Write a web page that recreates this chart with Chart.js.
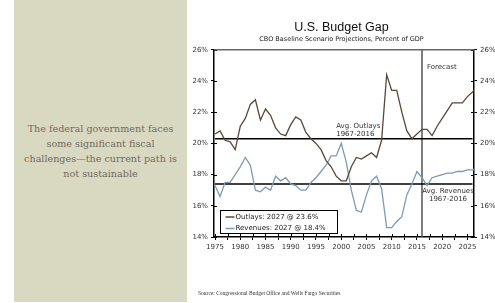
<!DOCTYPE html>
<html>
<head>
<meta charset="utf-8">
<script src="https://cdn.jsdelivr.net/npm/chart.js@4.4.1/dist/chart.umd.min.js"></script>
<style>
  html, body { margin: 0; padding: 0; background: #fff; }
  body { width: 495px; height: 303px; position: relative; overflow: hidden; }
  #side { position: absolute; left: 14px; top: 0; width: 173px; height: 302px; background: #d9d9c1; }
  #side p { position: absolute; left: 0; right: 0; top: 121px; margin: 0; text-align: center;
            font: 9.6px/15px "DejaVu Serif", serif; color: #716a5e; }
  #wrap { position: absolute; left: 188px; top: 0; width: 307px; height: 303px; }
  #src { position: absolute; left: 198px; top: 290px; font: 5.5px "Liberation Serif", serif; color: #333; white-space: nowrap; }
</style>
</head>
<body>
<div id="side"><p>The federal government faces<br>some significant fiscal<br>challenges—the current path is<br>not sustainable</p></div>
<div id="wrap"><canvas id="chart"></canvas></div>
<div id="src">Source: Congressional Budget Office and Wells Fargo Securities</div>
<script>
// fiscal years, 1975-2027 (2017 onward is CBO forecast)
const years = [1975, 1976, 1977, 1978, 1979, 1980, 1981, 1982, 1983, 1984,
  1985, 1986, 1987, 1988, 1989, 1990, 1991, 1992, 1993, 1994,
  1995, 1996, 1997, 1998, 1999, 2000, 2001, 2002, 2003, 2004,
  2005, 2006, 2007, 2008, 2009, 2010, 2011, 2012, 2013, 2014,
  2015, 2016, 2017, 2018, 2019, 2020, 2021, 2022, 2023, 2024,
  2025, 2026, 2027];
const outlays = [20.6, 20.8, 20.2, 20.1, 19.6, 21.1, 21.6, 22.5, 22.8, 21.5,
  22.2, 21.8, 21.0, 20.6, 20.5, 21.2, 21.7, 21.5, 20.7, 20.3,
  20.0, 19.6, 18.9, 18.5, 17.9, 17.6, 17.6, 18.5, 19.1, 19.0,
  19.2, 19.4, 19.1, 20.2, 24.4, 23.4, 23.4, 22.0, 20.8, 20.3,
  20.6, 20.9, 20.9, 20.5, 21.1, 21.6, 22.1, 22.6, 22.6, 22.6,
  23.0, 23.3, 23.6];
const revenues = [17.3, 16.6, 17.5, 17.5, 18.0, 18.5, 19.1, 18.6, 17.0, 16.9,
  17.2, 17.0, 17.9, 17.6, 17.8, 17.4, 17.3, 17.0, 17.0, 17.5,
  17.8, 18.2, 18.6, 19.2, 19.2, 20.0, 18.8, 17.0, 15.7, 15.6,
  16.7, 17.6, 17.9, 17.1, 14.6, 14.6, 15.0, 15.3, 16.7, 17.4,
  18.2, 17.8, 17.3, 17.8, 17.9, 18.0, 18.1, 18.1, 18.2, 18.2,
  18.3, 18.3, 18.4];
const avgOutlays = 20.3;   // 1967-2016 average
const avgRevenues = 17.4;  // 1967-2016 average
const forecastYear = 2016;
const xLabelYears = [1975, 1980, 1985, 1990, 1995, 2000, 2005, 2010, 2015, 2020, 2025];
const yTicks = [14, 16, 18, 20, 22, 24, 26];

const last = years.length - 1;
const tickFont = { family: "DejaVu Sans", size: 7 };

const pts = (vals) => years.map((y, i) => ({ x: y, y: vals[i] }));

// tick marks crossing the axes + top frame, notes and boxed legend
const extras = {
  id: "extras",
  afterDatasetsDraw(chart) {
    const ctx = chart.ctx, ca = chart.chartArea;
    const xs = chart.scales.x, ys = chart.scales.y;
    ctx.save();
    ctx.strokeStyle = "#000";
    ctx.lineWidth = 1;
    ctx.beginPath();
    xs.ticks.forEach(t => {
      const px = Math.round(xs.getPixelForValue(t.value)) + 0.5;
      ctx.moveTo(px, ca.bottom); ctx.lineTo(px, ca.bottom - 3);
    });
    ys.ticks.forEach(t => {
      const py = Math.round(ys.getPixelForValue(t.value)) + 0.5;
      ctx.moveTo(ca.left, py); ctx.lineTo(ca.left + 3, py);
      ctx.moveTo(ca.right, py); ctx.lineTo(ca.right - 3, py);
    });
    ctx.stroke();

    ctx.strokeStyle = "#666";
    ctx.lineWidth = 1.5;
    ctx.beginPath();
    ctx.moveTo(ca.left, ca.top); ctx.lineTo(ca.right, ca.top);
    ctx.stroke();

    ctx.fillStyle = "#333";
    ctx.font = "7px 'DejaVu Sans'";
    ctx.textBaseline = "middle";
    const oy = ys.getPixelForValue(avgOutlays);
    ctx.textAlign = "left";
    ctx.fillText("Avg. Outlays", xs.getPixelForValue(1999), oy - 13);
    ctx.fillText("1967-2016", xs.getPixelForValue(1999), oy - 5);
    const ry = ys.getPixelForValue(avgRevenues);
    ctx.textAlign = "center";
    ctx.fillText("Avg. Revenues", ca.right - 26, ry + 7);
    ctx.fillText("1967-2016", ca.right - 26, ry + 15);
    ctx.textAlign = "left";
    ctx.fillText("Forecast", xs.getPixelForValue(forecastYear) + 5, ca.top + 17);

    // legend box
    const bx = ca.left + 6.5, by = ca.bottom - 26.5, bw = 117, bh = 23;
    ctx.fillStyle = "#fff";
    ctx.fillRect(bx, by, bw, bh);
    ctx.strokeStyle = "#000";
    ctx.lineWidth = 1;
    ctx.strokeRect(bx, by, bw, bh);
    const items = [chart.data.datasets[0], chart.data.datasets[1]];
    items.forEach((ds, i) => {
      const ly = by + 6.5 + i * 11.5;
      ctx.strokeStyle = ds.borderColor;
      ctx.lineWidth = 1.5;
      ctx.beginPath();
      ctx.moveTo(bx + 5, ly); ctx.lineTo(bx + 14, ly);
      ctx.stroke();
      ctx.fillStyle = "#222";
      ctx.textAlign = "left";
      ctx.fillText(ds.label, bx + 15, ly);
    });
    ctx.restore();
  }
};

new Chart(document.getElementById("chart"), {
  type: "line",
  data: {
    datasets: [
      {
        label: `Outlays: ${years[last]} @ ${outlays[last].toFixed(1)}%`,
        data: pts(outlays),
        borderColor: "#5a4838",
        borderWidth: 1.3
      },
      {
        label: `Revenues: ${years[last]} @ ${revenues[last].toFixed(1)}%`,
        data: pts(revenues),
        borderColor: "#7b9bb6",
        borderWidth: 1.3
      },
      {
        label: "avgOutlays",
        data: [{ x: years[0], y: avgOutlays }, { x: years[last - 1], y: avgOutlays }],
        borderColor: "#000",
        borderWidth: 1.5
      },
      {
        label: "avgRevenues",
        data: [{ x: years[0], y: avgRevenues }, { x: years[last - 1], y: avgRevenues }],
        borderColor: "#000",
        borderWidth: 1.5
      },
      {
        label: "forecast",
        data: [{ x: forecastYear, y: yTicks[0] }, { x: forecastYear, y: yTicks[yTicks.length - 1] }],
        borderColor: "#555",
        borderWidth: 1.5
      }
    ]
  },
  options: {
    responsive: true,
    maintainAspectRatio: false,
    animation: false,
    devicePixelRatio: 1,
    elements: { point: { radius: 0 }, line: { tension: 0 } },
    layout: { padding: { top: 0, bottom: 46, left: 0, right: 0 } },
    plugins: {
      legend: { display: false },
      tooltip: { enabled: false },
      title: {
        display: true,
        text: "U.S. Budget Gap",
        color: "#111",
        font: { family: "Liberation Sans", size: 12.5, weight: "normal" },
        padding: { top: 20, bottom: 0 }
      },
      subtitle: {
        display: true,
        text: "CBO Baseline Scenario Projections, Percent of GDP",
        color: "#222",
        font: { family: "DejaVu Sans", size: 6.5 },
        padding: { top: 0, bottom: 7 }
      }
    },
    scales: {
      x: {
        type: "linear",
        min: 1974.8,
        max: 2026.3,
        afterBuildTicks: (s) => {
          s.ticks = xLabelYears.flatMap(y => [y, y + 2.5])
            .filter(v => v <= s.max)
            .map(v => ({ value: v }));
        },
        afterFit: (s) => { s.height = 20; },
        ticks: {
          autoSkip: false,
          maxRotation: 0,
          padding: 3,
          color: "#333",
          font: tickFont,
          callback: (v) => xLabelYears.includes(v) ? String(v) : ""
        },
        grid: { drawOnChartArea: false, tickLength: 3, color: "#000" },
        border: { color: "#000", width: 1.5 }
      },
      y: {
        position: "left",
        min: 14,
        max: 26,
        afterBuildTicks: (s) => { s.ticks = yTicks.map(v => ({ value: v })); },
        afterFit: (s) => { s.width = 26; },
        ticks: { padding: 3, color: "#333", font: tickFont, callback: (v) => v + "%" },
        grid: { drawOnChartArea: false, tickLength: 3, color: "#000" },
        border: { color: "#000", width: 1.5 }
      },
      y2: {
        position: "right",
        min: 14,
        max: 26,
        afterBuildTicks: (s) => { s.ticks = yTicks.map(v => ({ value: v })); },
        afterFit: (s) => { s.width = 21; },
        ticks: { padding: 3, color: "#333", font: tickFont, callback: (v) => v + "%" },
        grid: { drawOnChartArea: false, tickLength: 3, color: "#000" },
        border: { color: "#000", width: 1.5 }
      }
    }
  },
  plugins: [extras]
});
</script>
</body>
</html>
